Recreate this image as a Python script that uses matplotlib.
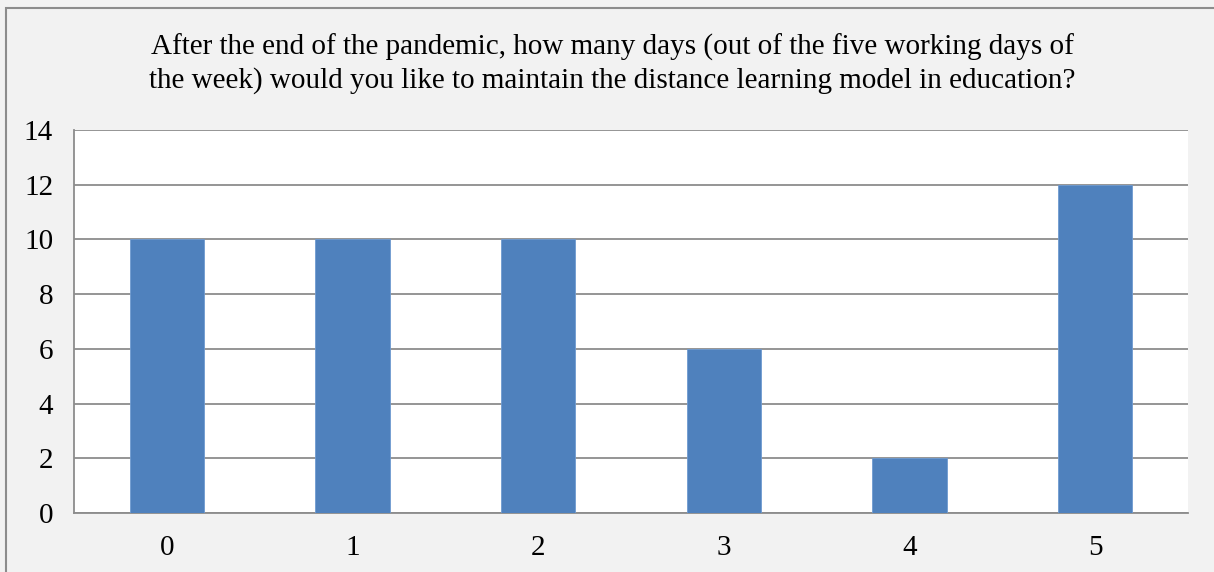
import matplotlib
matplotlib.use("Agg")
import matplotlib.pyplot as plt
from matplotlib.patches import Rectangle

categories = ["0", "1", "2", "3", "4", "5"]
values = [10, 10, 10, 6, 2, 12]
title = ("After the end of the pandemic, how many days (out of the five working days of\n"
         "the week) would you like to maintain the distance learning model in education?")

plt.rcParams['font.family'] = ['Liberation Serif', 'DejaVu Serif']

W, H = 1214, 572
fig = plt.figure(figsize=(W / 100, H / 100), dpi=100)
fig.patch.set_facecolor('#f2f2f2')
fig.patches.append(Rectangle((6 / W, -0.1), 1.2, (H - 8) / H + 0.1, transform=fig.transFigure,
                             fill=False, edgecolor='#8c8c8c', linewidth=1.5))

l, r, t, b = 74, 1188, 130, 513
ax = fig.add_axes([l / W, 1 - b / H, (r - l) / W, (b - t) / H])
ax.set_facecolor('white')
x = range(len(categories))
ax.bar(x, values, width=0.4, color='#4f81bd', edgecolor='#6f9bd1', linewidth=0.6, zorder=3)
ax.set_xlim(-0.5, len(categories) - 0.5)
ax.set_ylim(0, 14)
ax.set_yticks(range(0, 15, 2))
ax.set_xticks(list(x))
ax.set_xticklabels(categories)
ax.yaxis.grid(True, color='#8c8c8c', linewidth=1.3, zorder=0)
ax.set_axisbelow(True)
for s in ['right', 'top']:
    ax.spines[s].set_visible(False)
ax.spines['left'].set_color('#8c8c8c')
ax.spines['bottom'].set_color('#8c8c8c')
ax.spines['left'].set_linewidth(1.3)
ax.spines['bottom'].set_linewidth(1.3)
ax.tick_params(axis='both', length=0, labelsize=21, colors='black')
ax.tick_params(axis='y', pad=15)
ax.tick_params(axis='x', pad=16)

fig.text(612 / W, 1 - 64 / H, title, ha='center', va='center', fontsize=21,
         linespacing=1.3)

fig.savefig('out.png', dpi=100, facecolor=fig.get_facecolor())
